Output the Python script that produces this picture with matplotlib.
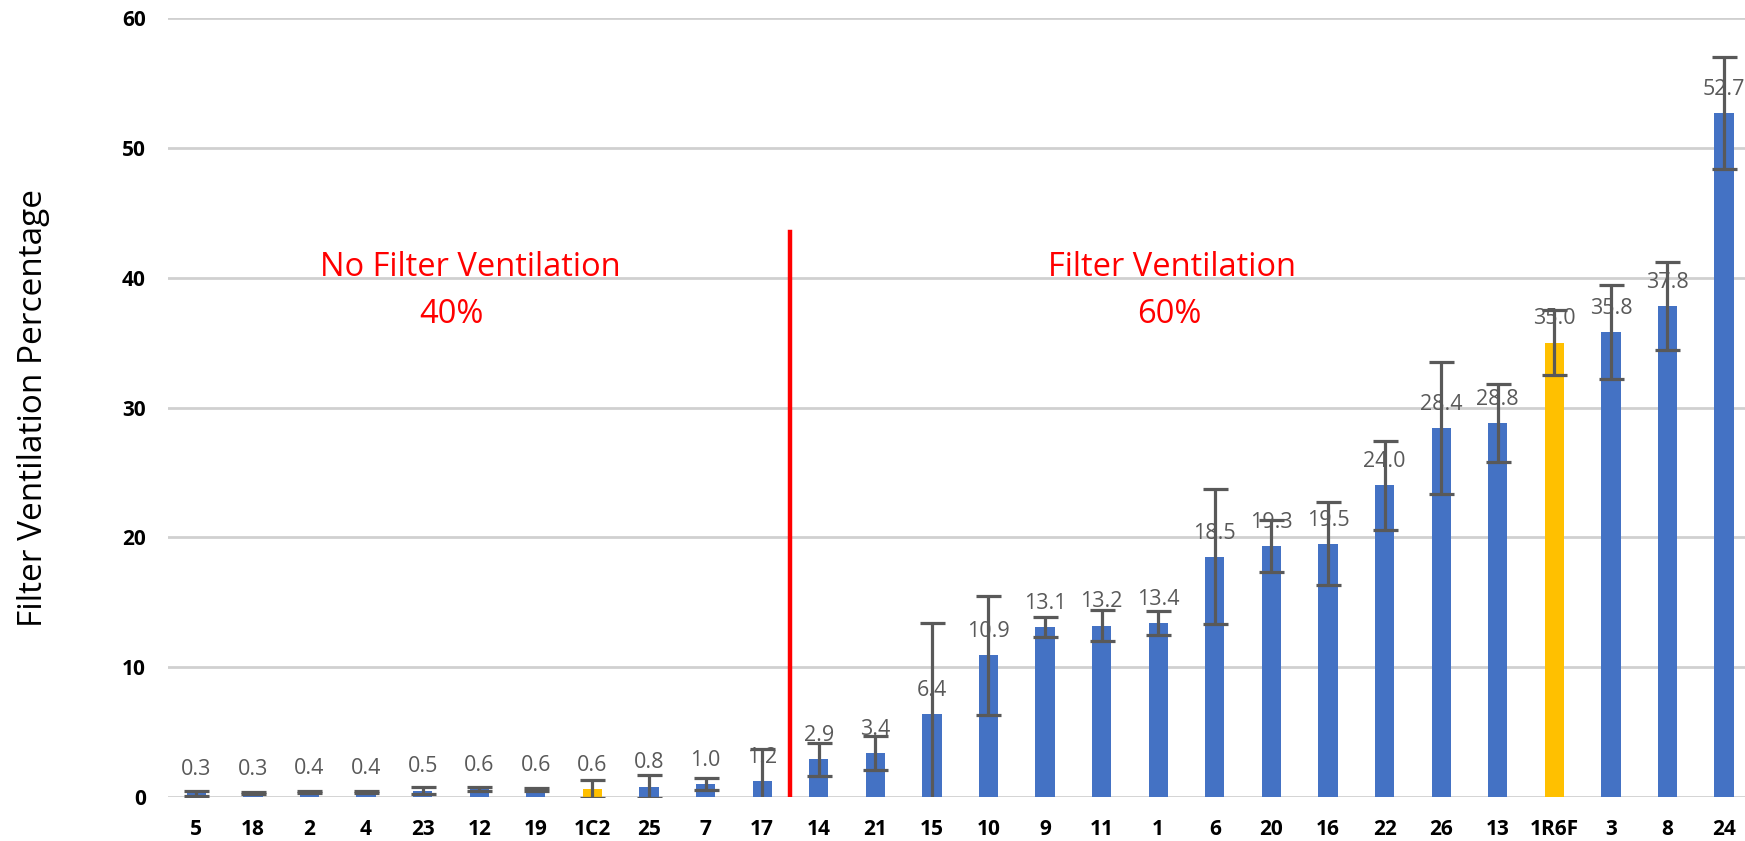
import matplotlib
matplotlib.use("Agg")
import matplotlib.pyplot as plt

categories = ["5", "18", "2", "4", "23", "12", "19", "1C2", "25", "7", "17",
              "14", "21", "15", "10", "9", "11", "1", "6", "20", "16", "22",
              "26", "13", "1R6F", "3", "8", "24"]
values = [0.3, 0.3, 0.4, 0.4, 0.5, 0.6, 0.6, 0.6, 0.8, 1.0, 1.2,
          2.9, 3.4, 6.4, 10.9, 13.1, 13.2, 13.4, 18.5, 19.3, 19.5, 24.0,
          28.4, 28.8, 35.0, 35.8, 37.8, 52.7]
errors = [0.2, 0.1, 0.1, 0.1, 0.25, 0.15, 0.1, 0.7, 0.9, 0.45, 2.5,
          1.25, 1.3, 7.0, 4.6, 0.8, 1.2, 0.9, 5.2, 2.0, 3.2, 3.4,
          5.1, 3.0, 2.5, 3.6, 3.4, 4.3]
highlight = ["1C2", "1R6F"]

BLUE = "#4472C4"
GOLD = "#FFC000"
RED = "#FF0000"
GRAY = "#595959"
FONT = ["Open Sans", "DejaVu Sans"]

fig = plt.figure(figsize=(17.45, 8.41), dpi=100)
ax = fig.add_axes([0.0963, 0.0523, 0.9037, 0.9263])

x = list(range(len(categories)))
colors = [GOLD if c in highlight else BLUE for c in categories]
ax.bar(x, values, width=0.34, color=colors, zorder=2)
ax.errorbar(x, values, yerr=errors, fmt="none", ecolor=GRAY, elinewidth=2.3,
            capsize=9, capthick=2.3, zorder=3)

for xi, v in zip(x, values):
    ax.annotate(f"{v:.1f}", (xi, v), xytext=(0, 9.5), textcoords="offset points",
                ha="center", va="bottom", fontsize=15.5, color=GRAY, family=FONT, zorder=4)

ax.set_ylim(0, 60)
ax.set_xlim(-0.5, 27.37)
ax.set_yticks([0, 10, 20, 30, 40, 50, 60])
ax.yaxis.grid(True, color="#D0D0D0", linewidth=2, zorder=0)
ax.set_axisbelow(True)
for s in ax.spines.values():
    s.set_visible(False)
ax.tick_params(axis="both", length=0)
ax.tick_params(axis="y", pad=16)
ax.tick_params(axis="x", pad=16)
ax.set_xticks(x)
ax.set_xticklabels(categories)
for lab in ax.get_xticklabels() + ax.get_yticklabels():
    lab.set_fontsize(15)
    lab.set_fontweight("bold")
    lab.set_family(FONT)

fig.text(0.019, 0.515, "Filter Ventilation Percentage", rotation=90, ha="center",
         va="center", fontsize=24, family=FONT)

# divider and group annotations
ax.plot([10.5, 10.5], [0, 43.5], color=RED, linewidth=3.2, zorder=5)
ax.text(4.84, 40.8, "No Filter Ventilation", color=RED, fontsize=23.5, ha="center",
        va="center", family=FONT)
ax.text(4.5, 37.2, "40%", color=RED, fontsize=23.5, ha="center", va="center", family=FONT)
ax.text(17.24, 40.8, "Filter Ventilation", color=RED, fontsize=23.5, ha="center",
        va="center", family=FONT)
ax.text(17.2, 37.2, "60%", color=RED, fontsize=23.5, ha="center", va="center", family=FONT)

fig.savefig("out.png", dpi=100)
